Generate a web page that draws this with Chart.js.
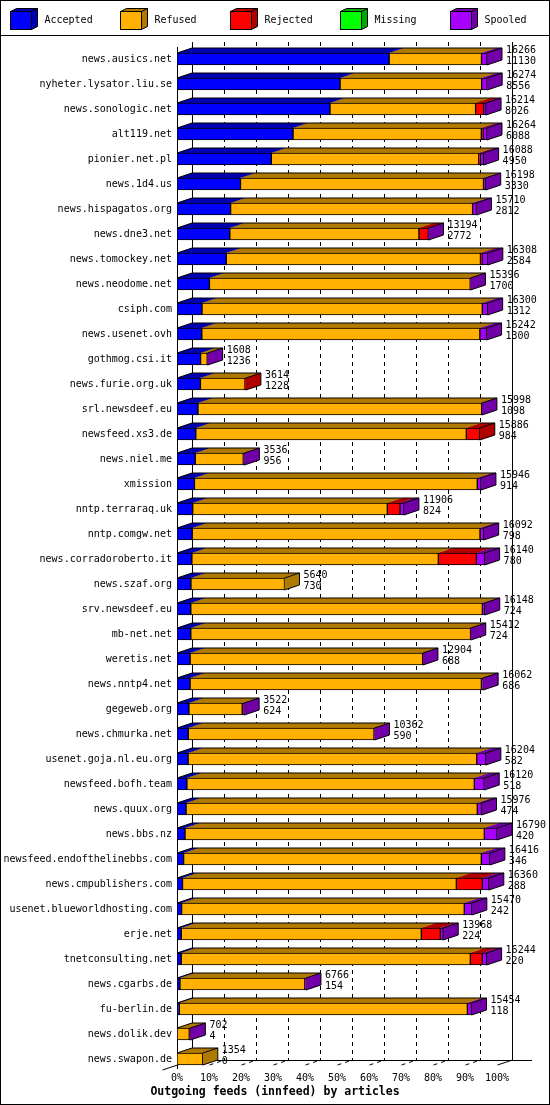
<!DOCTYPE html>
<html>
<head>
<meta charset="utf-8">
<script src="https://cdn.jsdelivr.net/npm/chart.js@4.4.1/dist/chart.umd.min.js"></script>
<style>
html, body { margin: 0; padding: 0; background: #fff; }
canvas { display: block; }
</style>
</head>
<body>
<canvas id="chart-innfeed" width="550" height="1105"></canvas>
<script>
// innfeed outgoing feeds, counts per peer
const hosts = [
    'news.ausics.net', 'nyheter.lysator.liu.se', 'news.sonologic.net', 'alt119.net',
    'pionier.net.pl', 'news.1d4.us', 'news.hispagatos.org', 'news.dne3.net',
    'news.tomockey.net', 'news.neodome.net', 'csiph.com', 'news.usenet.ovh',
    'gothmog.csi.it', 'news.furie.org.uk', 'srl.newsdeef.eu', 'newsfeed.xs3.de',
    'news.niel.me', 'xmission', 'nntp.terraraq.uk', 'nntp.comgw.net',
    'news.corradoroberto.it', 'news.szaf.org', 'srv.newsdeef.eu', 'mb-net.net',
    'weretis.net', 'news.nntp4.net', 'gegeweb.org', 'news.chmurka.net',
    'usenet.goja.nl.eu.org', 'newsfeed.bofh.team', 'news.quux.org', 'news.bbs.nz',
    'newsfeed.endofthelinebbs.com', 'news.cmpublishers.com', 'usenet.blueworldhosting.com', 'erje.net',
    'tnetconsulting.net', 'news.cgarbs.de', 'fu-berlin.de', 'news.dolik.dev',
    'news.swapon.de',
];
const offered = [
    16266, 16274, 16214, 16264, 16088, 16198, 15710, 13194, 16308, 15396, 16300, 16242,
    1608, 3614, 15998, 15886, 3536, 15946, 11906, 16092, 16140, 5640, 16148, 15412,
    12904, 16062, 3522, 10362, 16204, 16120, 15976, 16790, 16416, 16360, 15470, 13968,
    16244, 6766, 15454, 702, 1354,
];
const accepted = [
    11130, 8556, 8026, 6088, 4950, 3330, 2812, 2772, 2584, 1700, 1312, 1300,
    1236, 1228, 1098, 984, 956, 914, 824, 798, 780, 730, 724, 724,
    688, 686, 624, 590, 582, 518, 474, 420, 346, 288, 242, 224,
    220, 154, 118, 4, 0,
];
const refused = [
    4848, 7430, 7640, 9880, 10880, 12750, 12698, 9922, 13337, 13686, 14709, 14590,
    350, 2340, 14890, 14196, 2523, 14843, 10211, 15100, 12932, 4910, 15298, 14678,
    12206, 15286, 2800, 9747, 15142, 15083, 15283, 15706, 15622, 14369, 14833, 12596,
    15171, 6552, 15117, 640, 1354,
];
const rejected = [
    0, 0, 420, 90, 90, 0, 0, 490, 90, 0, 0, 0,
    0, 46, 0, 706, 0, 0, 665, 0, 1994, 0, 0, 0,
    0, 0, 0, 0, 0, 0, 0, 0, 0, 1364, 0, 997,
    630, 0, 0, 0, 0,
];
const missing = [
    0, 0, 0, 0, 0, 0, 0, 0, 0, 0, 0, 0,
    0, 0, 0, 0, 0, 0, 0, 0, 0, 0, 0, 0,
    0, 0, 0, 0, 0, 0, 0, 0, 0, 0, 0, 0,
    0, 0, 0, 0, 0,
];
const spooled = [
    288, 288, 128, 206, 168, 118, 200, 10, 297, 10, 279, 352,
    22, 0, 10, 0, 57, 189, 206, 194, 434, 0, 126, 10,
    10, 90, 98, 25, 480, 519, 219, 664, 448, 339, 395, 151,
    223, 60, 219, 58, 0,
];
const seriesNames = ['Accepted', 'Refused', 'Rejected', 'Missing', 'Spooled'];
const xTickLabels = ['0%', '10%', '20%', '30%', '40%', '50%', '60%', '70%', '80%', '90%', '100%'];
const chartTitle = 'Outgoing feeds (innfeed) by articles';

const FRONT = ['#0000ff', '#ffb000', '#ff0000', '#00ff00', '#a800ff'];
const DARK = ['#0000b0', '#b07a00', '#b00000', '#00a800', '#7200a8'];
const DX = 15, DY = 5;
const MONO = '"DejaVu Sans Mono", "Liberation Mono", monospace';
const maxTotal = Math.max(...offered);

const depth3d = {
    id: 'depth3d',
    beforeDraw(chart) {
        const ctx = chart.ctx;
        ctx.save();
        ctx.fillStyle = '#fff';
        ctx.fillRect(0, 0, chart.width, chart.height);
        ctx.restore();
    },
    beforeDatasetsDraw(chart) {
        const ctx = chart.ctx;
        const xs = chart.scales.x;
        const frontTop = 47, frontBot = 1065;
        const x0 = Math.round(xs.getPixelForValue(0)) + 0.5;
        const x100 = Math.round(xs.getPixelForValue(maxTotal)) + 0.5;
        ctx.save();
        ctx.strokeStyle = '#000';
        ctx.lineWidth = 1;

        // back wall grid + dashed floor ticks
        ctx.setLineDash([4, 4]);
        for (let k = 1; k < 10; k++) {
            const fx = Math.round(xs.getPixelForValue(k * maxTotal / 10)) + 0.5;
            ctx.beginPath();
            ctx.moveTo(fx + DX, frontTop - DY);
            ctx.lineTo(fx + DX, frontBot - DY);
            ctx.stroke();
            ctx.beginPath();
            ctx.moveTo(fx, frontBot);
            ctx.lineTo(fx + DX, frontBot - DY);
            ctx.stroke();
        }
        ctx.setLineDash([]);
        ctx.beginPath();
        ctx.moveTo(x0 + DX, frontTop - DY);
        ctx.lineTo(x0 + DX, frontBot - DY);
        ctx.moveTo(x100 + DX, frontTop - DY);
        ctx.lineTo(x100 + DX, frontBot - DY + 0.5);
        // floor
        ctx.moveTo(x0 + DX, frontBot - DY + 0.5);
        ctx.lineTo(532, frontBot - DY + 0.5);
        ctx.moveTo(x0 - DX, frontBot + DY);
        ctx.lineTo(x0 + DX, frontBot - DY);
        ctx.moveTo(x100, frontBot);
        ctx.lineTo(x100 + DX, frontBot - DY);
        // front axis
        ctx.moveTo(x0, frontTop);
        ctx.lineTo(x0, frontBot + 4);
        ctx.stroke();

        // top and side faces of every segment, left to right
        const metas = chart.data.datasets.map((d, i) => chart.getDatasetMeta(i));
        for (let i = 0; i < hosts.length; i++) {
            let barLeft = null, barRight = null, top = 0, bottom = 0;
            metas.forEach((meta, d) => {
                const v = chart.data.datasets[d].data[i];
                if (!v) return;
                const p = meta.data[i].getProps(['x', 'y', 'base', 'height'], true);
                const l = Math.min(p.x, p.base), r = Math.max(p.x, p.base);
                top = p.y - p.height / 2;
                bottom = p.y + p.height / 2;
                if (barLeft === null) barLeft = l;
                barRight = r;
                ctx.fillStyle = DARK[d];
                ctx.beginPath();
                ctx.moveTo(r, top);
                ctx.lineTo(r + DX, top - DY);
                ctx.lineTo(r + DX, bottom - DY);
                ctx.lineTo(r, bottom);
                ctx.closePath();
                ctx.fill();
                ctx.beginPath();
                ctx.moveTo(l, top);
                ctx.lineTo(l + DX, top - DY);
                ctx.lineTo(r + DX, top - DY);
                ctx.lineTo(r, top);
                ctx.closePath();
                ctx.fill();
            });
            if (barLeft === null) continue;
            ctx.beginPath();
            ctx.moveTo(barLeft, top);
            ctx.lineTo(barLeft + DX, top - DY);
            ctx.lineTo(barRight + DX, top - DY);
            ctx.lineTo(barRight + DX, bottom - DY);
            ctx.lineTo(barRight, bottom);
            ctx.moveTo(barRight, top);
            ctx.lineTo(barRight + DX, top - DY);
            ctx.stroke();
        }
        ctx.restore();
    },
    afterDatasetsDraw(chart) {
        const ctx = chart.ctx;
        const xs = chart.scales.x;
        const meta = chart.getDatasetMeta(0);
        ctx.save();
        ctx.fillStyle = '#000';
        ctx.font = '10px ' + MONO;
        ctx.textAlign = 'left';
        ctx.textBaseline = 'middle';
        for (let i = 0; i < hosts.length; i++) {
            const yc = meta.data[i].y;
            const tx = xs.getPixelForValue(offered[i]) + DX + 4;
            ctx.fillText(String(offered[i]), tx, yc - 9);
            ctx.fillText(String(accepted[i]), tx, yc + 2);
        }
        ctx.restore();
    },
    afterDraw(chart) {
        const ctx = chart.ctx;
        ctx.save();
        ctx.strokeStyle = '#000';
        ctx.lineWidth = 1;
        ctx.strokeRect(0.5, 0.5, chart.width - 1, chart.height - 1);
        ctx.beginPath();
        ctx.moveTo(0, 35.5);
        ctx.lineTo(chart.width, 35.5);
        ctx.stroke();

        // chart title, centred on the whole picture
        ctx.fillStyle = '#000';
        ctx.font = 'bold 11.5px ' + MONO;
        ctx.textAlign = 'center';
        ctx.textBaseline = 'middle';
        ctx.fillText(chartTitle, chart.width / 2, 1092);

        // legend with little 3d boxes
        ctx.font = '10px ' + MONO;
        ctx.textBaseline = 'middle';
        ctx.textAlign = 'left';
        seriesNames.forEach((name, i) => {
            const bx = 10.5 + 110 * i, by = 11.5, w = 21, h = 18, dx = 6, dy = 3;
            ctx.fillStyle = DARK[i];
            ctx.beginPath();
            ctx.moveTo(bx, by);
            ctx.lineTo(bx + dx, by - dy);
            ctx.lineTo(bx + w + dx, by - dy);
            ctx.lineTo(bx + w + dx, by + h - dy);
            ctx.lineTo(bx + w, by + h);
            ctx.lineTo(bx + w, by);
            ctx.closePath();
            ctx.fill();
            ctx.stroke();
            ctx.beginPath();
            ctx.moveTo(bx + w, by);
            ctx.lineTo(bx + w + dx, by - dy);
            ctx.stroke();
            ctx.fillStyle = FRONT[i];
            ctx.fillRect(bx, by, w, h);
            ctx.strokeRect(bx, by, w, h);
            ctx.fillStyle = '#000';
            ctx.fillText(name, bx + 34, 20.5);
        });
        ctx.restore();
    },
};

const seriesData = [accepted, refused, rejected, missing, spooled];

new Chart(document.getElementById('chart-innfeed').getContext('2d'), {
    type: 'bar',
    data: {
        labels: hosts,
        datasets: seriesData.map((vals, i) => ({
            label: seriesNames[i],
            data: vals,
            backgroundColor: FRONT[i],
            borderColor: '#000',
            borderWidth: 1,
            borderSkipped: false,
            barThickness: 12,
        })),
    },
    plugins: [depth3d],
    options: {
        responsive: false,
        devicePixelRatio: 1,
        animation: false,
        indexAxis: 'y',
        layout: { padding: { top: 46.5, right: 53, bottom: 0, left: 0 } },
        plugins: {
            legend: { display: false },
            tooltip: { enabled: false },
        },
        scales: {
            x: {
                type: 'linear',
                stacked: true,
                min: 0,
                max: maxTotal,
                grid: { display: false, drawTicks: false },
                border: { display: false },
                afterBuildTicks: s => {
                    s.ticks = xTickLabels.map((_, k) => ({ value: k * maxTotal / 10 }));
                },
                ticks: {
                    autoSkip: false,
                    maxRotation: 0,
                    padding: 1,
                    color: '#000',
                    font: { family: MONO, size: 10 },
                    callback: (v, idx) => xTickLabels[idx],
                },
                afterFit: s => { s.height = 33.5; },
            },
            y: {
                type: 'category',
                stacked: true,
                grid: { display: false, drawTicks: false },
                border: { display: false },
                ticks: {
                    autoSkip: false,
                    padding: 5,
                    color: '#000',
                    font: { family: MONO, size: 10 },
                },
                afterFit: s => { s.width = 177; },
            },
        },
    },
});
</script>
</body>
</html>
